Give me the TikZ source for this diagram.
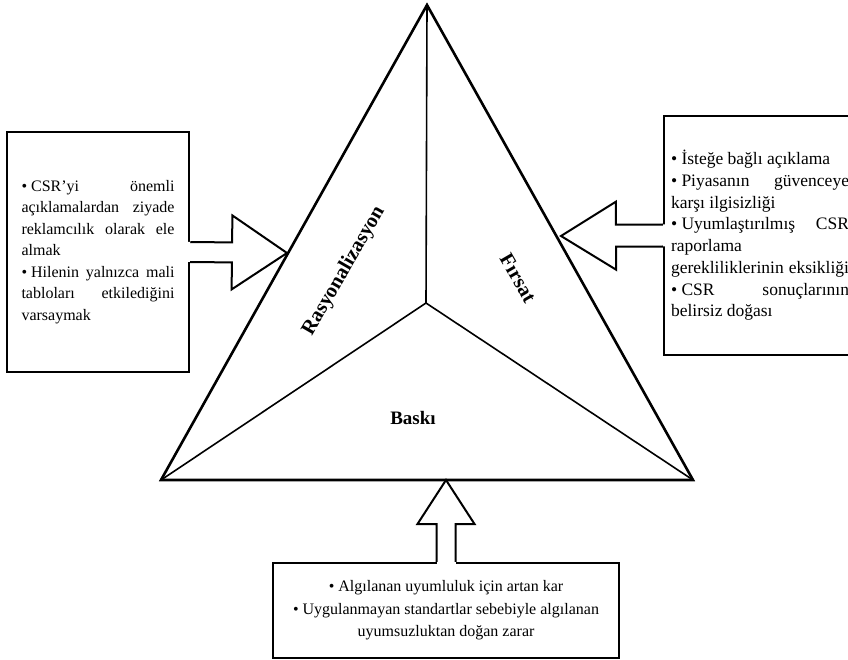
\documentclass[tikz,border=0pt]{standalone}
\usepackage{fontspec}
\setmainfont{Liberation Serif}
\usetikzlibrary{positioning,calc}

\newcommand{\spread}[1]{\makebox[\linewidth][s]{#1}}
\newcommand{\bul}{\textbullet\hspace{0.25em}}

\begin{document}
\begin{tikzpicture}[x=1pt,y=-1pt,font=\fontsize{16}{21.5}\selectfont,
  txtbox/.style={draw,line width=2.3pt,inner sep=0pt},
  corner/.style={font=\fontsize{20.5}{24}\selectfont\bfseries},
  arrowline/.style={line width=2pt,line join=miter}]

  \useasboundingbox (0,0) rectangle (848,660);

  % triangle
  \coordinate (top) at (427,5);
  \coordinate (bl) at (161,480);
  \coordinate (br) at (693,480);
  \coordinate (mid) at (426,303);
  \draw[line width=2.6pt] (top) -- (bl) -- (br) -- cycle;
  \draw[line width=1.6pt] (mid) -- (top) (mid) -- (bl) (mid) -- (br);

  \node[corner,rotate=60] (rasyo) at (344,271) {Rasyonalizasyon};
  \node[corner,rotate=-60] (firsat) at (518,278) {Fırsat};
  \node[corner,font=\fontsize{19}{22}\selectfont\bfseries] (baski) at (413,418) {Baskı};

  % boxes
  \node[txtbox,minimum width=182pt,minimum height=240pt] (lbox) at (98,252)
    {\raisebox{-5pt}{\parbox{153pt}{\spaceskip=0pt\relax
      \spread{\bul CSR’yi önemli}\\
      \spread{açıklamalardan ziyade}\\
      \spread{reklamcılık olarak ele}\\
      almak\\
      \spread{\bul Hilenin yalnızca mali}\\
      \spread{tabloları etkilediğini}\\
      varsaymak}}};

  \node[txtbox,minimum width=192pt,minimum height=239pt,
        font=\fontsize{17.5}{21.7}\selectfont] (rbox) at (760,235.5)
    {\raisebox{-6pt}{\parbox{178pt}{\spaceskip=0pt\relax
      \bul İsteğe bağlı açıklama\\
      \spread{\bul Piyasanın güvenceye}\\
      karşı ilgisizliği\\
      \spread{\bul Uyumlaştırılmış CSR}\\
      raporlama\\
      \spread{gerekliliklerinin eksikliği}\\
      \spread{\bul CSR sonuçlarının}\\
      belirsiz doğası}}};

  \node[txtbox,minimum width=346pt,minimum height=95pt,align=center,
        font=\fontsize{16}{22.5}\selectfont] (bbox) at (446,610.5) {%
    \bul Algılanan uyumluluk için artan kar\\
    \bul Uygulanmayan standartlar sebebiyle algılanan\\
    uyumsuzluktan doğan zarar};

  % block arrows
  \coordinate (ltip) at (287,253);
  \coordinate (rtip) at (561,236);
  \coordinate (btip) at (446,480);

  \foreach \src/\dst/\sw/\hw/\hl in {lbox.east/ltip/10/37/55,
      rbox.west/rtip/11/34/55, bbox.north/btip/9.5/28.5/44} {
    \path let \p1=(\src), \p2=(\dst) in
      \pgfextra{\pgfmathsetmacro\arrang{atan2(\y2-\y1,\x2-\x1)}%
                \pgfmathsetmacro\arrlen{veclen(\x2-\x1,\y2-\y1)}%
                \global\let\arrang\arrang \global\let\arrlen\arrlen};
    \begin{scope}[shift={(\src)},rotate=\arrang]
      \fill[white] (-3,-\sw) rectangle (\arrlen-\hl,\sw);
      \fill[white] (\arrlen-\hl,-\hw) -- (\arrlen,0) -- (\arrlen-\hl,\hw) -- cycle;
      \draw[arrowline] (0,-\sw) -- (\arrlen-\hl,-\sw) -- (\arrlen-\hl,-\hw)
        -- (\arrlen,0) -- (\arrlen-\hl,\hw) -- (\arrlen-\hl,\sw) -- (0,\sw);
    \end{scope}
  }

\end{tikzpicture}
\end{document}
